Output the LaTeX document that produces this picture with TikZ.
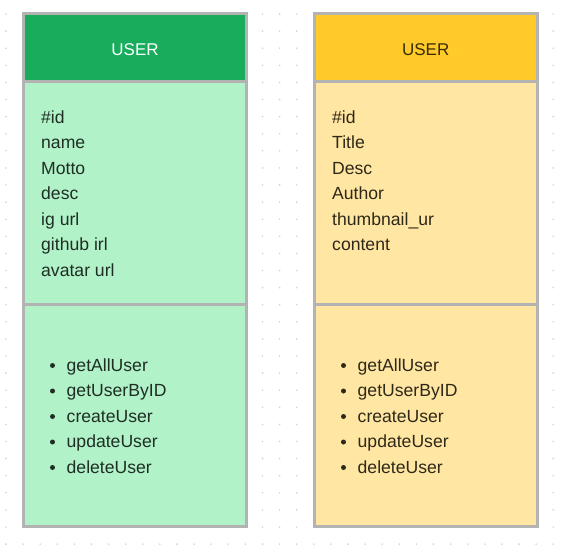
\documentclass[tikz,border=0pt]{standalone}
\usepackage{fontspec}
\setmainfont{Liberation Sans}
\definecolor{gH}{HTML}{17AD5C}
\definecolor{gB}{HTML}{B1F2C8}
\definecolor{yH}{HTML}{FFCA2A}
\definecolor{yB}{HTML}{FFE6A3}
\definecolor{bord}{HTML}{B3B3B3}
\definecolor{dotc}{HTML}{D2D2D2}
\definecolor{gT}{HTML}{1F2E24}
\definecolor{yT}{HTML}{2E2818}
\definecolor{yHT}{HTML}{3A2C05}
\tikzset{
  sect/.style={draw=none},
  frame/.style={draw=bord, line width=3pt},
  hdr/.style={anchor=base, font=\fontsize{17}{20}\selectfont, inner sep=0pt},
  attr/.style={anchor=base west, font=\fontsize{17.6}{21}\selectfont, inner sep=0pt},
  bul/.style={circle, inner sep=0pt, minimum size=5pt}
}
\begin{document}
\begin{tikzpicture}[x=1pt,y=-1pt]
\useasboundingbox (0,0) rectangle (569,557);
\fill[white] (0,0) rectangle (569,557);
\foreach \i in {0,...,32} \foreach \j in {0,...,31} \fill[dotc] (6+17.1*\i, 14+17.1*\j) circle (0.9);

% left table
\fill[gH] (23.5,13.5) rectangle (246.5,81.5);
\fill[gB] (23.5,81.5) rectangle (246.5,526.5);
\draw[frame] (23.5,81.5) -- (246.5,81.5);
\draw[frame] (23.5,304) -- (246.5,304);
\draw[frame] (23.5,13.5) rectangle (246.5,526.5);
\node[hdr, text=white] (lh) at (135,55) {USER};
\foreach \t [count=\k from 0] in {\#id,name,Motto,desc,ig url,github irl,avatar url}
  \node[attr, text=gT] (la\k) at (41,123+25.5*\k) {\t};
\foreach \t [count=\k from 0] in {getAllUser,getUserByID,createUser,updateUser,deleteUser}{
  \node[bul, fill=gT] (lb\k) at (52.5,365.5+25.5*\k) {};
  \node[attr, text=gT] (lm\k) at (66.5,371+25.5*\k) {\t};
}

% right table
\fill[yH] (314.5,13.5) rectangle (537,81.5);
\fill[yB] (314.5,81.5) rectangle (537,526.5);
\draw[frame] (314.5,81.5) -- (537,81.5);
\draw[frame] (314.5,304) -- (537,304);
\draw[frame] (314.5,13.5) rectangle (537,526.5);
\node[hdr, text=yHT] (rh) at (425.7,55) {USER};
\foreach \t [count=\k from 0] in {\#id,Title,Desc,Author,thumbnail\_ur,content}
  \node[attr, text=yT] (ra\k) at (332,123+25.5*\k) {\t};
\foreach \t [count=\k from 0] in {getAllUser,getUserByID,createUser,updateUser,deleteUser}{
  \node[bul, fill=yT] (rb\k) at (343.5,365.5+25.5*\k) {};
  \node[attr, text=yT] (rm\k) at (357.5,371+25.5*\k) {\t};
}
\end{tikzpicture}
\end{document}
